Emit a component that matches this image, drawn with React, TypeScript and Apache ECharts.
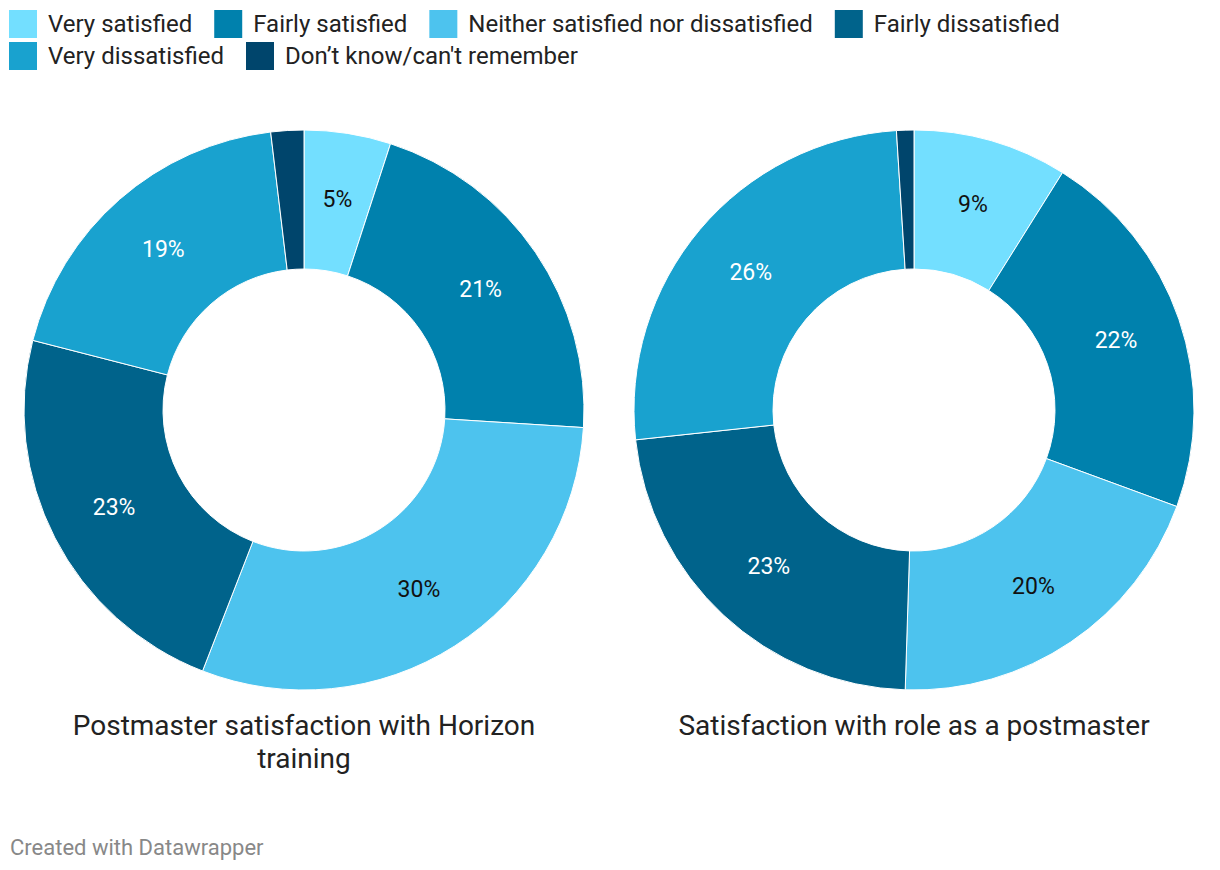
import React, { useEffect, useRef } from "react";
import * as echarts from "echarts";

const categories = [
  "Very satisfied",
  "Fairly satisfied",
  "Neither satisfied nor dissatisfied",
  "Fairly dissatisfied",
  "Very dissatisfied",
  "Don’t know/can't remember",
];
const colors = ["#73dfff", "#0081ad", "#4dc3ee", "#00638b", "#19a2cf", "#00456c"];
const labelColors = ["#111", "#fff", "#111", "#fff", "#fff", "#fff"];
const trainingValues = [5.0, 21.0, 29.9, 23.1, 19.1, 1.9];
const roleValues = [8.9, 21.7, 19.9, 22.8, 25.7, 1.0];
const trainingLabels = ["5%", "21%", "30%", "23%", "19%", ""];
const roleLabels = ["9%", "22%", "20%", "23%", "26%", ""];
const titles = ["Postmaster satisfaction with Horizon\ntraining", "Satisfaction with role as a postmaster"];

const FONT = "Roboto, 'Noto Sans', sans-serif";

function makeSeries(values: number[], labels: string[], cx: number) {
  return {
    type: "pie",
    center: [cx, 410],
    radius: [141, 280],
    startAngle: 90,
    clockwise: true,
    silent: true,
    avoidLabelOverlap: false,
    itemStyle: { borderColor: "#fff", borderWidth: 1 },
    label: {
      show: true,
      position: "inside",
      fontFamily: FONT,
      fontSize: 23,
      formatter: (p: any) => labels[p.dataIndex],
    },
    labelLine: { show: false },
    data: categories.map((name, i) => ({
      name,
      value: values[i],
      itemStyle: { color: colors[i] },
      label: { color: labelColors[i] },
    })),
  };
}

export default function App() {
  const ref = useRef<HTMLDivElement>(null);
  useEffect(() => {
    document.body.style.margin = "0";
    const chart = echarts.init(ref.current!, null, { renderer: "svg" });
    const legendBase = {
      orient: "horizontal",
      icon: "rect",
      itemWidth: 28,
      itemHeight: 28,
      itemGap: 22,
      selectedMode: false,
      padding: 0,
      itemStyle: { borderWidth: 0 },
      textStyle: { fontFamily: FONT, fontSize: 24, color: "#222", padding: [0, 0, 0, 6] },
    };
    const titleStyle = { fontFamily: FONT, fontSize: 28, fontWeight: "normal", color: "#222", lineHeight: 33 };
    chart.setOption({
      animation: false,
      color: colors,
      legend: [
        { ...legendBase, left: 9, top: 10, data: categories.slice(0, 4) },
        { ...legendBase, left: 9, top: 42, data: categories.slice(4) },
      ],
      title: [
        { text: titles[0], left: 304, top: 709, padding: 0, textAlign: "center", textStyle: titleStyle },
        { text: titles[1], left: 914, top: 709, padding: 0, textAlign: "center", textStyle: titleStyle },
        {
          text: "Created with Datawrapper",
          left: 10,
          top: 836,
          padding: 0,
          textStyle: { fontFamily: FONT, fontSize: 22, fontWeight: "normal", color: "#888" },
        },
      ],
      series: [makeSeries(trainingValues, trainingLabels, 304), makeSeries(roleValues, roleLabels, 914)],
    });
    return () => chart.dispose();
  }, []);
  return <div ref={ref} style={{ width: 1220, height: 870, background: "#fff" }} />;
}
